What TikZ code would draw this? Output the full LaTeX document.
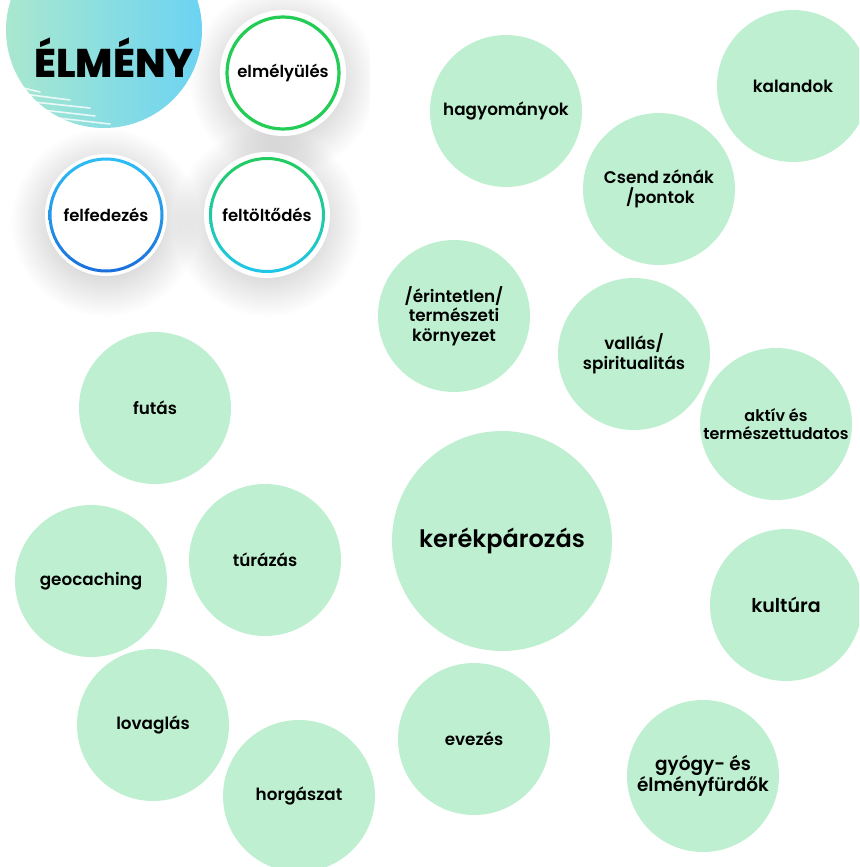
\documentclass[tikz,border=0pt]{standalone}
\usepackage{fontspec}
\setmainfont{Poppins}[BoldFont={Poppins SemiBold}]
\newfontfamily\heavy{Poppins}[UprightFont={Poppins ExtraBold}]
\usetikzlibrary{shapes.geometric}
\definecolor{bubble}{HTML}{BDEFD0}
\definecolor{ringgreen}{HTML}{22CC55}
\definecolor{blobL}{HTML}{A9E8CF}
\definecolor{blobR}{HTML}{6CD3F2}
\definecolor{blueT}{HTML}{2DBDF5}
\definecolor{blueB}{HTML}{1C6FDC}
\definecolor{greenT}{HTML}{22CC5E}
\definecolor{cyanB}{HTML}{20C6EA}
\pgfdeclareradialshading{softshadow}{\pgfpoint{0bp}{0bp}}{color(0bp)=(black!14); color(14bp)=(black!14); color(25bp)=(white); color(50bp)=(white)}
\tikzset{
  bub/.style={circle, fill=bubble, minimum size=152pt, inner sep=0pt, align=center,
    font=\fontsize{16.8}{19.5}\selectfont\bfseries},
  wring/.style={circle, fill=white, minimum size=126pt, inner sep=0pt, align=center,
    font=\fontsize{16.5}{18}\selectfont\bfseries},
  ringtext/.style={font=\fontsize{16.5}{18}\selectfont\bfseries},
}
\begin{document}
\begin{tikzpicture}[x=1pt,y=-1pt]
\useasboundingbox (0,0) rectangle (859,867);
\clip (0,0) rectangle (859,867);
% panel
\begin{scope}
\clip (0,0) rectangle (370,315);
\begin{scope}[blend mode=multiply]
\shade[shading=softshadow] (283,80) circle (95);
\shade[shading=softshadow] (105,222) circle (95);
\shade[shading=softshadow] (267,222) circle (95);
\end{scope}
% blob
\shade[left color=blobL, right color=blobR] (104,30) circle (98);
\foreach \yy/\xa/\xb in {92/8/70, 100/15/90, 108/25/95, 116/40/110, 84/6/40}{
  \draw[white, line width=1.6pt, line cap=round, opacity=0.8] (\xa,\yy) .. controls ({(\xa+\xb)/2},{\yy+4}) .. (\xb,{\yy+8});
}
\node[font=\fontsize{40}{42}\selectfont\heavy, inner sep=0pt] (elmeny) at (114,58) {ÉLMÉNY};
% rings
\node[wring] (elm) at (283,73) {elmélyülés};
\draw[ringgreen, line width=3.2pt] (elm.center) circle (56);
\node[wring, minimum size=122pt] (felf) at (106,215) {};
\shade[top color=blueT, bottom color=blueB, even odd rule] (felf.center) circle (57.5) circle (54.5);
\node[ringtext] (felft) at (felf.center) {felfedezés};
\node[wring] (felt) at (267,215) {};
\shade[top color=greenT, bottom color=cyanB, even odd rule] (felt.center) circle (58) circle (55);
\node[ringtext] (feltt) at (felt.center) {feltöltődés};
\end{scope}
% bubbles
\node[bub] (hagy) at (506,111) {hagyományok};
\node[bub] (kal) at (793,86) {kalandok};
\node[bub] (csend) at (659,189) {Csend zónák\\\,/pontok};
\node[bub] (erint) at (454,316) {/érintetlen/\\természeti\\környezet};
\node[bub] (vallas) at (634,354) {vallás/\\spiritualitás};
\node[bub, font=\fontsize{16}{17.5}\selectfont\bfseries] (aktiv) at (776,424) {aktív és\\természettudatos};
\node[bub, minimum size=220pt, font=\fontsize{24}{26}\selectfont\bfseries] (kerek) at (502,541) {kerékpározás};
\node[bub] (futas) at (155,408) {futás};
\node[bub] (turazas) at (265,560) {túrázás};
\node[bub] (geo) at (91,581) {geocaching};
\node[bub, font=\fontsize{19}{21}\selectfont\bfseries] (kult) at (786,605) {kultúra};
\node[bub] (lov) at (153,725) {lovaglás};
\node[bub] (evez) at (474,739) {evezés};
\node[bub] (horg) at (299,796) {horgászat};
\node[bub, font=\fontsize{18.5}{19}\selectfont\bfseries] (gyogy) at (703,776) {gyógy- és\\élményfürdők};
\end{tikzpicture}
\end{document}
